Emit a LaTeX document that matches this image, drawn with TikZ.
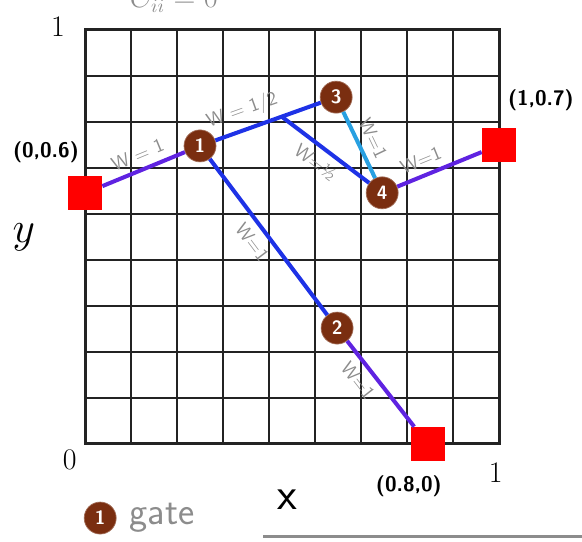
\documentclass[tikz,border=0pt]{standalone}
\usepackage{fontspec}
\definecolor{gateBrown}{RGB}{122,46,16}
\definecolor{wireBlue}{RGB}{30,50,230}
\definecolor{wirePurple}{RGB}{95,35,225}
\definecolor{wireCyan}{RGB}{40,160,225}
\definecolor{labelGray}{RGB}{140,140,140}
\definecolor{gridInk}{RGB}{35,35,35}
\usetikzlibrary{shapes,calc,positioning}

\begin{document}
\begin{tikzpicture}[
  x=0.92cm, y=0.92cm,
  gate/.style={
    circle, fill=gateBrown, draw=gateBrown!70, text=white,
    font=\sffamily\bfseries\fontsize{11}{12}\selectfont,
    minimum size=0.64cm, inner sep=0pt
  },
  pin/.style={rectangle, fill=red, minimum size=0.68cm, inner sep=0pt},
  wire/.style={line width=2.3pt},
  wlab/.style={font=\sffamily\fontsize{11}{12}\selectfont, text=labelGray, sloped, inner sep=4pt},
  coordlab/.style={font=\sffamily\bfseries\fontsize{12}{14}\selectfont},
  axislab/.style={font=\fontsize{17}{20}\selectfont}
]
  \useasboundingbox (-1.848,-2.109) rectangle (10.804,9.652);

  % grid
  \draw[gridInk, line width=1.1pt, step=1] (0,0) grid (9,9);
  \draw[gridInk, line width=1.7pt] (0,0) rectangle (9,9);

  % pins and gates
  \node[pin] (s0) at (0,5.45) {};
  \node[pin] (s1) at (9,6.5) {};
  \node[pin] (s2) at (7.45,0) {};
  \node[gate] (g1) at (2.5,6.48) {1};
  \node[gate] (g2) at (5.48,2.52) {2};
  \node[gate] (g3) at (5.46,7.54) {3};
  \node[gate] (g4) at (6.46,5.46) {4};
  \coordinate (J) at ($(g1)!0.6!(g3)$);

  % wires
  \draw[wire, wirePurple] (s0) -- node[wlab, above] {W = 1} (g1);
  \draw[wire, wireBlue] (g1) -- node[wlab, above] {W = 1/2} (J) -- (g3);
  \draw[wire, wireBlue] (J) -- node[wlab, below] {W=½} (g4);
  \draw[wire, wireCyan] (g3) -- node[wlab, above] {W=1} (g4);
  \draw[wire, wirePurple] (g4) -- node[wlab, above, pos=0.35] {W=1} (s1);
  \draw[wire, wireBlue] (g1) -- node[wlab, below, pos=0.47] {W=1} (g2);
  \draw[wire, wirePurple] (g2) -- node[wlab, below, pos=0.35] {W=1} (s2);

  % labels
  \node[coordlab] (p0) at (-0.85,6.35) {(0,0.6)};
  \node[coordlab] (p1) at (9.91,7.48) {(1,0.7)};
  \node[coordlab] (p2) at (7.04,-0.91) {(0.8,0)};
  \node[axislab] (ytop) at (-0.59,9.07) {1};
  \node[axislab] (orig) at (-0.33,-0.35) {0};
  \node[axislab] (xend) at (8.93,-0.63) {1};
  \node[font=\sffamily\fontsize{26}{28}\selectfont] (xname) at (4.39,-1.2) {x};
  \node[font=\fontsize{32}{34}\selectfont] (yname) at (-1.33,4.5) {$y$};
  \node[anchor=base, text=labelGray, font=\fontsize{16}{18}\selectfont] (cost) at (1.93,9.48) {$C_{ii}=0$};

  % legend
  \node[gate] (key) at (0.33,-1.61) {1};
  \node[right=0.14cm of key, text=labelGray, font=\sffamily\fontsize{22}{24}\selectfont] (keytext) {gate};
  \coordinate (rulea) at (3.87,-2.02);
  \coordinate (ruleb) at (10.9,-2.02);
  \draw[labelGray, line width=1.7pt] (rulea) -- (ruleb);
\end{tikzpicture}
\end{document}
